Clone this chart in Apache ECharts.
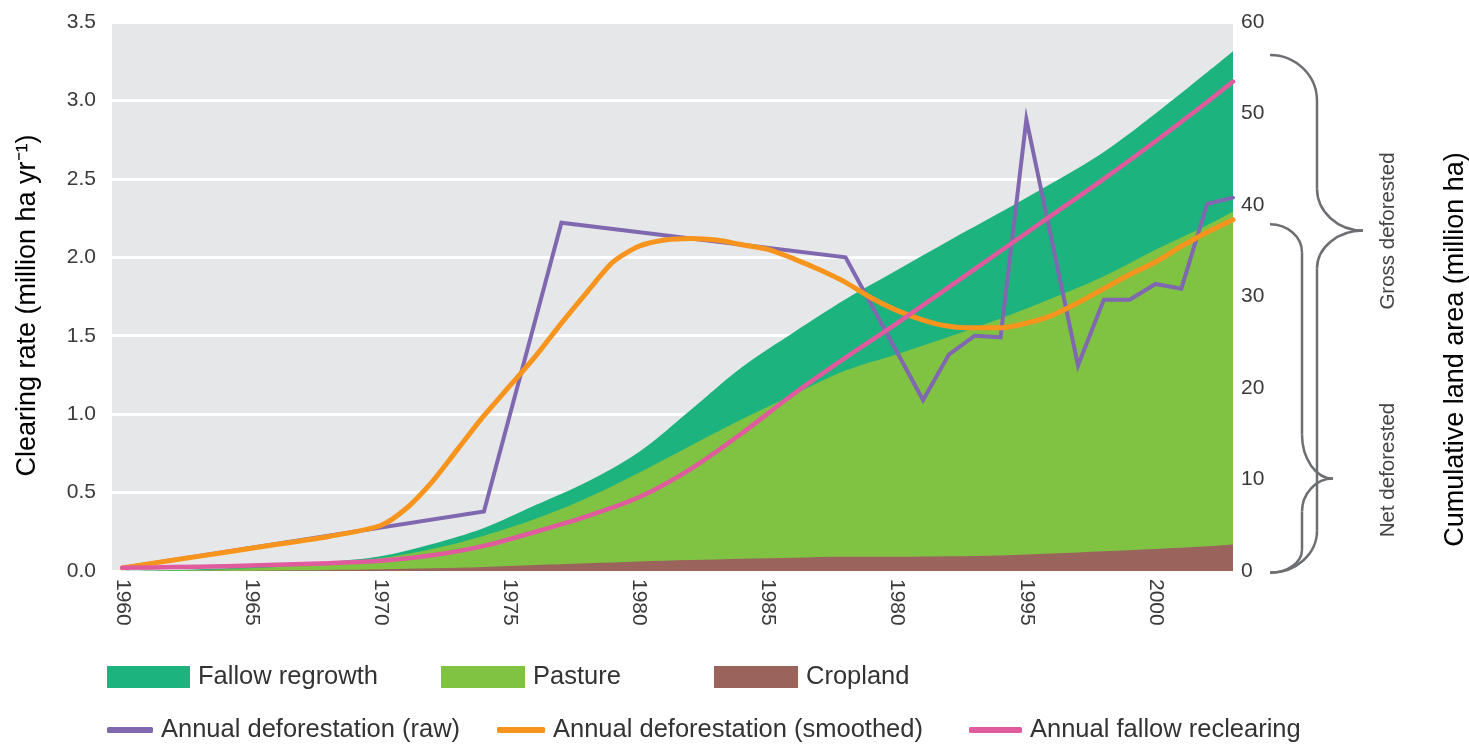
<!DOCTYPE html>
<html>
<head>
<meta charset="utf-8">
<title>Clearing rate and cumulative land area</title>
<script src="https://cdn.jsdelivr.net/npm/echarts@6/dist/echarts.min.js"></script>
<style>
  html, body { margin: 0; padding: 0; background: #fff; }
  #main { width: 1469px; height: 749px; }
</style>
</head>
<body>
<div id="main"></div>
<script>
// x axis labels (the original prints "1980" at the 1990 position)
const tickYears = [1960, 1965, 1970, 1975, 1980, 1985, 1990, 1995, 2000]
const tickLabels = ['1960', '1965', '1970', '1975', '1980', '1985', '1980', '1995', '2000']

// cumulative land area, million ha (right axis), one value per land use
const areaYears = [1960, 1962, 1964, 1966, 1968, 1970, 1972, 1974, 1976, 1978, 1980, 1982,
  1984, 1986, 1988, 1990, 1992, 1994, 1996, 1998, 2000, 2002, 2003]
const cropland = [0, 0, 0.02, 0.05, 0.1, 0.18, 0.3, 0.45, 0.65, 0.85, 1.05, 1.2,
  1.35, 1.45, 1.55, 1.55, 1.6, 1.7, 1.9, 2.15, 2.4, 2.7, 2.9]
const pasture = [0, 0.05, 0.18, 0.4, 0.75, 1.22, 2.1, 3.41, 5.05, 7.15, 9.7, 12.5,
  15.25, 17.85, 20.35, 22.15, 24.0, 25.9, 27.9, 30.05, 32.7, 35.1, 36.4]
const fallowRegrowth = [0, 0.05, 0.1, 0.15, 0.15, 0.2, 0.55, 0.84, 1.5, 1.75, 2.25, 3.9,
  5.7, 6.8, 7.8, 9.2, 10.5, 11.6, 12.6, 13.6, 14.9, 16.7, 17.5]

// clearing rate, million ha / yr (left axis)
const rawYears = [1960, 1974, 1977, 1988, 1991, 1992, 1993, 1994, 1995, 1997, 1998, 1999, 2000, 2001, 2002, 2003]
const rawRate = [0.02, 0.38, 2.22, 2.00, 1.09, 1.38, 1.50, 1.49, 2.88, 1.31, 1.73, 1.73, 1.83, 1.80, 2.34, 2.38]

const smoothYears = [1960, 1962, 1964, 1966, 1968, 1970, 1971, 1972, 1973, 1974, 1975, 1976, 1977, 1978,
  1979, 1980, 1981, 1982, 1983, 1984, 1985, 1986, 1987, 1988, 1989, 1990, 1991, 1992, 1993, 1994,
  1995, 1996, 1997, 1998, 1999, 2000, 2001, 2002, 2003]
const smoothRate = [0.02, 0.07, 0.12, 0.17, 0.22, 0.29, 0.40, 0.57, 0.78, 0.99, 1.18, 1.37, 1.58, 1.78,
  1.97, 2.07, 2.11, 2.12, 2.11, 2.08, 2.05, 1.99, 1.92, 1.84, 1.74, 1.66, 1.60, 1.56, 1.55, 1.55,
  1.58, 1.63, 1.71, 1.80, 1.89, 1.97, 2.07, 2.16, 2.24]

// fallow reclearing, on areaYears
const reclearing = [0.02, 0.025, 0.03, 0.04, 0.05, 0.065, 0.1, 0.16, 0.25, 0.35, 0.47, 0.65,
  0.88, 1.13, 1.36, 1.58, 1.81, 2.04, 2.27, 2.5, 2.74, 2.99, 3.12]

const FONT = '"Liberation Sans", Arial, sans-serif'
const pairs = (xs, ys) => xs.map((x, i) => [x, ys[i]])

// stack on the value axis by hand: upper edge of each band
let pastureTop = cropland.map((c, i) => c + pasture[i])
let grossTop = pastureTop.map((p, i) => p + fallowRegrowth[i])

let myChart = echarts.init(document.getElementById('main'))

function areaSeries(name, data, color, z) {
  return {
    name: name,
    type: 'line',
    yAxisIndex: 1,
    smooth: 0.35,
    symbol: 'none',
    color: color,
    lineStyle: { width: 0 },
    areaStyle: { color: color, opacity: 1 },
    data: pairs(areaYears, data),
    z: z
  }
}

function lineSeries(name, xs, ys, color, width, smooth) {
  return {
    name: name,
    type: 'line',
    yAxisIndex: 0,
    smooth: smooth,
    symbol: 'none',
    color: color,
    lineStyle: { color: color, width: width, cap: 'round', join: 'miter' },
    data: pairs(xs, ys),
    z: 5
  }
}

function legendItem(name, left, top, w, h, icon) {
  return {
    data: [name],
    left: left,
    top: top,
    padding: 0,
    icon: icon,
    itemWidth: w,
    itemHeight: h,
    selectedMode: false,
    textStyle: { fontFamily: FONT, fontSize: 25.5, color: '#333', padding: [0, 0, 0, 3] }
  }
}

let option = {
  animation: false,
  textStyle: { fontFamily: FONT },
  grid: {
    left: 112, right: 236, top: 22, bottom: 178,
    outerBoundsMode: 'none',
    show: true, backgroundColor: '#E6E7E8', borderWidth: 0
  },
  legend: [
    legendItem('Fallow regrowth', 107, 664, 83, 22, 'rect'),
    legendItem('Pasture', 441, 664, 84, 22, 'rect'),
    legendItem('Cropland', 714, 664, 84, 22, 'rect'),
    legendItem('Annual deforestation (raw)', 107, 717, 46, 6, 'roundRect'),
    legendItem('Annual deforestation (smoothed)', 497, 717, 48, 6, 'roundRect'),
    legendItem('Annual fallow reclearing', 969, 717, 53, 6, 'roundRect')
  ],
  xAxis: {
    type: 'value',
    min: 1959.6,
    max: 2003,
    axisLine: { show: false },
    axisTick: { show: false },
    splitLine: { show: false },
    axisLabel: {
      customValues: tickYears,
      formatter: v => tickLabels[tickYears.indexOf(v)],
      rotate: -90,
      margin: 8,
      fontSize: 21,
      color: '#3a3a3a'
    }
  },
  yAxis: [
    {
      type: 'value',
      min: 0,
      max: 3.5,
      interval: 0.5,
      name: 'Clearing rate (million ha yr⁻¹)',
      nameLocation: 'middle',
      nameRotate: 90,
      nameGap: 71,
      nameTextStyle: { fontSize: 27, color: '#000', padding: [0, 18, 0, 0] },
      axisLine: { show: false },
      axisTick: { show: false },
      axisLabel: { formatter: v => v.toFixed(1), fontSize: 21, color: '#3a3a3a', margin: 16 },
      splitLine: { lineStyle: { color: '#fff', width: 3 } }
    },
    {
      type: 'value',
      min: 0,
      max: 60,
      interval: 10,
      position: 'right',
      name: 'Cumulative land area (million ha)',
      nameLocation: 'middle',
      nameRotate: 90,
      nameGap: 209,
      nameTextStyle: { fontSize: 27, color: '#000', padding: [0, 106, 0, 0] },
      axisLine: { show: false },
      axisTick: { show: false },
      axisLabel: { fontSize: 21, color: '#3a3a3a', margin: 8 },
      splitLine: { show: false }
    }
  ],
  series: [
    areaSeries('Fallow regrowth', grossTop, '#1DB37F', 1),
    areaSeries('Pasture', pastureTop, '#80C242', 2),
    areaSeries('Cropland', cropland, '#9A645C', 3),
    lineSeries('Annual deforestation (raw)', rawYears, rawRate, '#8068B0', 4, false),
    lineSeries('Annual deforestation (smoothed)', smoothYears, smoothRate, '#F7941D', 5, 0.25),
    lineSeries('Annual fallow reclearing', areaYears, reclearing, '#E05A9E', 4.5, 0.3)
  ]
}

myChart.setOption(option)

// curly braces on the right, placed with the right axis scale
function brace(x0, x1, x2, yTop, yTip, yBot, rTop, rTip1, rTip2, rBot) {
  let s = { stroke: '#6D6E71', lineWidth: 2.5, fill: null }
  let k = 0.55
  return [
    { type: 'bezierCurve', shape: { x1: x0, y1: yTop, cpx1: x0 + (x1 - x0) * k, cpy1: yTop, cpx2: x1, cpy2: yTop + rTop * (1 - k), x2: x1, y2: yTop + rTop }, style: s },
    { type: 'line', shape: { x1: x1, y1: yTop + rTop, x2: x1, y2: yTip - rTip1 }, style: s },
    { type: 'bezierCurve', shape: { x1: x1, y1: yTip - rTip1, cpx1: x1, cpy1: yTip - rTip1 * (1 - k), cpx2: x1 + (x2 - x1) * (1 - k), cpy2: yTip, x2: x2, y2: yTip }, style: s },
    { type: 'bezierCurve', shape: { x1: x2, y1: yTip, cpx1: x1 + (x2 - x1) * (1 - k), cpy1: yTip, cpx2: x1, cpy2: yTip + rTip2 * (1 - k), x2: x1, y2: yTip + rTip2 }, style: s },
    { type: 'line', shape: { x1: x1, y1: yTip + rTip2, x2: x1, y2: yBot - rBot }, style: s },
    { type: 'bezierCurve', shape: { x1: x1, y1: yBot - rBot, cpx1: x1, cpy1: yBot - rBot * (1 - k), cpx2: x0 + (x1 - x0) * k, cpy2: yBot, x2: x0, y2: yBot }, style: s }
  ]
}

let py = v => myChart.convertToPixel({ yAxisIndex: 1 }, v)
let last = areaYears.length - 1

let labelStyle = { fontFamily: FONT, fontSize: 20.5, fill: '#444', align: 'center', verticalAlign: 'middle' }

myChart.setOption({
  graphic: [
    ...brace(1270, 1317, 1363, py(grossTop[last] - 0.4), py(37.2), py(-0.2), 46, 42, 38, 42),
    ...brace(1270, 1302, 1333, py(pastureTop[last] - 1.4), py(10.1), py(-0.2), 28, 44, 33, 23),
    { type: 'text', x: 1388, y: 231, rotation: Math.PI / 2, style: Object.assign({ text: 'Gross deforested' }, labelStyle) },
    { type: 'text', x: 1388, y: 470, rotation: Math.PI / 2, style: Object.assign({ text: 'Net deforested' }, labelStyle) }
  ]
})
</script>
</body>
</html>
